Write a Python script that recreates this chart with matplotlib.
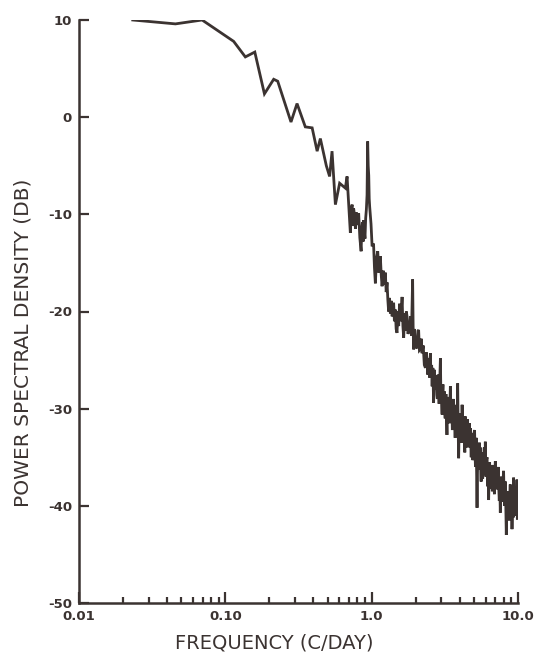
import numpy as np
import matplotlib
matplotlib.use("Agg")
import matplotlib.pyplot as plt
from matplotlib.ticker import FixedLocator, NullFormatter

# spectrum (frequency in c/day, PSD in dB)
freq_low = [0.0233, 0.0456, 0.0694, 0.114, 0.137, 0.159, 0.185, 0.214, 0.228,
            0.281, 0.309, 0.352, 0.392, 0.424, 0.446, 0.49, 0.516, 0.536, 0.565,
            0.604, 0.661, 0.679, 0.715, 0.725, 0.735, 0.745, 0.753, 0.765, 0.775,
            0.785, 0.795, 0.805, 0.815, 0.83, 0.847, 0.856, 0.865, 0.874, 0.882,
            0.891, 0.900, 0.910, 0.920, 0.930, 0.939, 0.947, 0.955, 0.962, 0.969,
            0.99, 1.007, 1.03, 1.045, 1.06, 1.08, 1.10, 1.12, 1.146, 1.162, 1.178,
            1.20, 1.22, 1.24, 1.257, 1.274, 1.29, 1.306]
psd_low = [10.0, 9.6, 10.0, 7.8, 6.2, 6.7, 2.4, 3.9, 3.7,
           -0.5, 1.4, -1.0, -1.1, -3.5, -2.2, -5.0, -6.1, -3.5, -9.0,
           -6.8, -7.3, -6.1, -11.9, -9.6, -9.0, -11.2, -9.4, -10.2, -11.5,
           -9.8, -11.1, -10.4, -9.9, -12.4, -13.8, -11.5, -10.8, -12.8, -10.6,
           -11.8, -12.5, -10.4, -9.5, -8.0, -2.5, -5.0, -6.0, -8.4, -9.2,
           -11.0, -13.3, -13.0, -15.5, -17.1, -14.5, -13.8, -16.0, -14.3, -16.2, -17.4,
           -15.8, -17.2, -16.0, -18.0, -17.0, -18.8, -20.0]

freq_high = [1.32, 1.342, 1.36, 1.38, 1.413, 1.43, 1.45, 1.47, 1.49, 1.51,
             1.53, 1.55, 1.58, 1.614, 1.635, 1.655, 1.68, 1.70, 1.725, 1.745,
             1.77, 1.81, 1.84, 1.87, 1.905, 1.92, 1.936, 1.96, 1.99, 2.04,
             2.07, 2.094, 2.12, 2.15, 2.18, 2.21, 2.25, 2.29, 2.33, 2.36,
             2.39, 2.42, 2.435, 2.45, 2.47, 2.49, 2.505, 2.52, 2.535, 2.55,
             2.57, 2.59, 2.605, 2.62, 2.635, 2.65, 2.665, 2.68, 2.70, 2.72,
             2.745, 2.77, 2.79, 2.81, 2.83, 2.85, 2.87, 2.89, 2.92, 2.95,
             2.965, 2.98, 3.005, 3.03, 3.05, 3.07, 3.09, 3.11, 3.125, 3.14,
             3.16, 3.18, 3.20, 3.22, 3.245, 3.27, 3.285, 3.30, 3.325, 3.35,
             3.375, 3.40, 3.425, 3.45, 3.475, 3.50, 3.53, 3.56, 3.585, 3.61,
             3.64, 3.67, 3.695, 3.72, 3.75, 3.78, 3.80, 3.82, 3.845, 3.87,
             3.90, 3.93, 3.955, 3.98, 4.01, 4.04, 4.07, 4.10, 4.125, 4.15,
             4.185, 4.22, 4.26, 4.30, 4.33, 4.36, 4.395, 4.43, 4.47, 4.51,
             4.545, 4.58, 4.615, 4.65, 4.685, 4.72, 4.755, 4.79, 4.825, 4.86,
             4.915, 4.97, 5.01, 5.05, 5.085, 5.12, 5.15, 5.18, 5.215, 5.25,
             5.28, 5.31, 5.335, 5.36, 5.405, 5.45, 5.49, 5.53, 5.565, 5.60,
             5.64, 5.68, 5.735, 5.79, 5.835, 5.88, 5.93, 5.98, 6.015, 6.05,
             6.10, 6.15, 6.185, 6.22, 6.26, 6.30, 6.35, 6.40, 6.44, 6.48,
             6.525, 6.57, 6.625, 6.68, 6.74, 6.80, 6.85, 6.90, 6.95, 7.00,
             7.05, 7.10, 7.16, 7.22, 7.285, 7.35, 7.40, 7.45, 7.51, 7.57,
             7.635, 7.70, 7.75, 7.80, 7.885, 7.97, 8.035, 8.10, 8.15, 8.20,
             8.26, 8.32, 8.385, 8.45, 8.52, 8.59, 8.655, 8.72, 8.785, 8.85,
             8.925, 9.00, 9.05, 9.10, 9.15, 9.20, 9.265, 9.33, 9.39, 9.45,
             9.515, 9.58, 9.64, 9.70, 9.77, 9.84, 9.87, 9.90, 9.925, 9.95,
             9.975, 10.0]
psd_high = [-18.6, -20.2, -18.9, -20.5, -19.1, -21.0, -19.8, -21.8, -22.2, -20.0,
            -21.5, -19.2, -21.0, -18.5, -21.5, -22.7, -20.2, -22.0, -20.0, -20.5,
            -22.3, -21.9, -20.5, -22.5, -16.7, -21.5, -23.9, -21.8, -23.5, -23.8,
            -22.0, -21.9, -24.0, -23.9, -22.8, -24.3, -23.5, -25.5, -25.8, -24.2,
            -25.0, -26.5, -25.0, -24.8, -26.2, -26.8, -25.2, -24.3, -26.0, -26.5,
            -25.5, -27.7, -26.2, -25.8, -27.5, -29.4, -27.2, -26.0, -27.8, -28.0,
            -26.6, -27.0, -28.6, -29.0, -27.2, -26.5, -28.4, -29.5, -27.0, -24.8,
            -27.5, -28.0, -29.2, -30.6, -28.4, -27.5, -29.5, -30.0, -28.2, -28.6,
            -30.4, -31.0, -29.0, -28.5, -30.8, -32.7, -30.5, -30.1, -29.2, -28.8,
            -30.8, -31.5, -29.5, -27.7, -30.2, -31.0, -29.8, -32.2, -30.0, -29.0,
            -31.2, -29.6, -31.8, -33.0, -31.0, -30.5, -32.4, -32.8, -30.2, -27.4,
            -32.0, -35.1, -32.4, -30.5, -32.6, -33.5, -31.6, -31.0, -32.8, -29.6,
            -32.0, -33.5, -31.8, -33.2, -34.5, -30.8, -32.6, -34.0, -32.3, -31.1,
            -33.0, -33.8, -32.0, -31.5, -34.0, -32.0, -33.6, -35.0, -33.0, -32.5,
            -35.3, -34.2, -32.5, -32.2, -34.6, -36.0, -34.2, -33.0, -36.5, -40.2,
            -36.8, -35.5, -34.2, -36.3, -35.0, -33.5, -36.0, -34.0, -36.4, -37.5,
            -35.6, -34.5, -37.2, -36.3, -35.0, -34.0, -36.8, -33.4, -35.6, -37.0,
            -35.2, -35.0, -37.4, -38.0, -36.0, -39.4, -36.8, -35.5, -38.2, -37.5,
            -36.2, -35.8, -37.8, -38.5, -36.4, -35.8, -38.0, -38.8, -36.6, -35.4,
            -38.0, -37.5, -36.2, -38.3, -37.0, -36.0, -38.4, -39.5, -37.4, -40.7,
            -38.2, -37.0, -39.6, -39.0, -37.6, -36.4, -39.0, -40.0, -38.0, -37.5,
            -40.6, -43.0, -39.4, -38.5, -41.0, -38.8, -40.2, -41.5, -39.0, -37.8,
            -40.2, -41.0, -38.8, -42.4, -40.0, -38.5, -41.2, -37.1, -39.8, -40.5,
            -38.4, -40.4, -38.6, -38.0, -41.0, -37.3, -40.2, -41.4, -38.2, -38.5,
            -41.0, -40.0]

y_ticks = [10, 0, -10, -20, -30, -40, -50]
y_tick_labels = ["10", "0", "-10", "-20", "-30", "-40", "-50"]
x_ticks = [0.01, 0.1, 1.0, 10.0]
x_tick_labels = ["0.01", "0.10", "1.0", "10.0"]

ink = "#3b3331"

fig = plt.figure(figsize=(5.41, 6.55), dpi=100)
ax = fig.add_axes([79 / 541, 52 / 655, 439 / 541, 583 / 655])

ax.plot(freq_low + freq_high, psd_low + psd_high, color=ink, lw=2.0,
        solid_joinstyle="miter")

ax.set_xscale("log")
ax.set_xlim(0.01, 10.0)
ax.set_ylim(-50, 10)

for side in ["top", "right"]:
    ax.spines[side].set_visible(False)
for side in ["left", "bottom"]:
    ax.spines[side].set_color(ink)
    ax.spines[side].set_linewidth(1.8)

ax.xaxis.set_major_locator(FixedLocator(x_ticks))
ax.set_xticklabels(x_tick_labels)
minors = [m * d for d in [0.01, 0.1, 1.0] for m in range(2, 10)]
ax.xaxis.set_minor_locator(FixedLocator(minors))
ax.xaxis.set_minor_formatter(NullFormatter())
ax.set_yticks(y_ticks)
ax.set_yticklabels(y_tick_labels)

ax.tick_params(axis="both", which="major", direction="in", color=ink,
               width=1.6, labelcolor=ink, labelsize=9.5)
ax.tick_params(axis="y", which="major", length=7.5, pad=5)
ax.tick_params(axis="x", which="major", length=8, pad=5)
ax.tick_params(axis="x", which="minor", direction="in", length=4.5,
               width=1.6, color=ink)
for lbl in ax.get_xticklabels() + ax.get_yticklabels():
    lbl.set_fontweight("bold")

fig.text(274 / 541, 1 - 643 / 655, "FREQUENCY (C/DAY)", color=ink,
         fontsize=14, ha="center", va="center")
fig.text(23 / 541, 1 - 343 / 655, "POWER SPECTRAL DENSITY (DB)", color=ink,
         fontsize=14.5, ha="center", va="center", rotation=90)

fig.savefig("out.png", dpi=100, facecolor="white")
